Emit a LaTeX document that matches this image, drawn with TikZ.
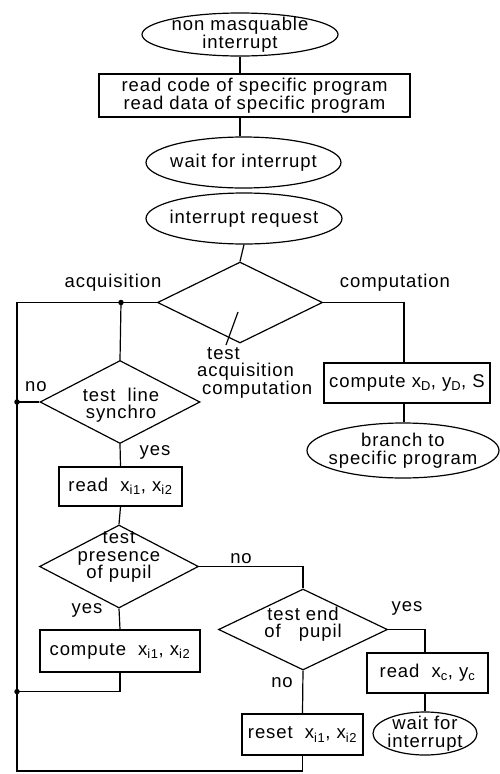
\documentclass[tikz,border=0pt]{standalone}
\usepackage{fontspec}
\setmainfont[LetterSpace=5]{Liberation Sans}
\usetikzlibrary{shapes.geometric}
\begin{document}
\begin{tikzpicture}[x=1pt,y=-1pt,
  every node/.style={font=\fontsize{18.5}{17.5}\selectfont, inner sep=0pt},
  line/.style={line width=1.2pt},
  oval/.style={ellipse, draw, line width=1.2pt},
  box/.style={rectangle, draw, line width=1.2pt, align=center},
  dia/.style={diamond, draw, line width=1.2pt},
  txt/.style={align=center},
  dot/.style={circle, fill, inner sep=0pt, minimum size=5.5pt}]
\useasboundingbox (0,0) rectangle (499,774);
% top chain
\node[oval, minimum width=196, minimum height=43, label={[txt]center:non masquable\\interrupt}] (e1) at (240,34.5) {};
\node[box, minimum width=311, minimum height=43] (b1) at (254.5,95.5) {read code of specific program\\read data of specific program};
\node[oval, minimum width=195, minimum height=51, label={[txt]center:wait for interrupt}] (e2) at (243.5,162.5) {};
\node[oval, minimum width=196, minimum height=51, label={[txt]center:interrupt request}] (e3) at (244,218.5) {};
\node[dia, minimum width=165, minimum height=81] (d1) at (240,302.5) {};
% right branch
\coordinate (cR) at (404,0);
\node[box, minimum width=166, minimum height=40] (b2) at (407,383) {compute x\textsubscript{D}, y\textsubscript{D}, S};
\node[oval, minimum width=192, minimum height=55, label={[txt]center:branch to\\specific program}] (e4) at (403,450.5) {};
% left branch
\coordinate (L1) at (17,302.5);
\coordinate (Lb) at (17,771);
\coordinate (j1) at (121,302.5);
\node[dia, minimum width=160, minimum height=83] (d2) at (120,402) {};
\node[txt] (t2) at (121,405) {test\ \ line\\synchro};
\node[box, minimum width=123, minimum height=39] (b3) at (120.5,486.5) {read\ \ x\textsubscript{i1}, x\textsubscript{i2}};
\node[dia, minimum width=159, minimum height=83] (d3) at (119,566.5) {};
\node[txt] (t3) at (119,557) {test\\presence\\of pupil};
\node[box, minimum width=160, minimum height=42] (b4) at (120,651) {compute\ \ x\textsubscript{i1}, x\textsubscript{i2}};
\node[dia, minimum width=169, minimum height=81] (d4) at (303,629.5) {};
\node[txt] (t4) at (303,624) {test end\\of\ \ \ pupil};
\node[box, minimum width=121, minimum height=40] (b5) at (427.5,673) {read\ \ x\textsubscript{c}, y\textsubscript{c}};
\node[oval, minimum width=104, minimum height=43, label={[txt]center:wait for\\interrupt}] (e5) at (425,733.5) {};
\node[box, minimum width=121, minimum height=41] (b6) at (302.5,734.5) {reset\ \ x\textsubscript{i1}, x\textsubscript{i2}};
% labels
\node (la) at (113,283) {acquisition};
\node (lc) at (395,283) {computation};
\node[align=left, anchor=north west] (ld) at (197,347) {\hspace{10pt}test\\acquisition\\\hspace{5pt}computation};
\coordinate (p1) at (238,312);
\coordinate (p2) at (226,345);
\node (n1) at (36,387) {no};
\node (y1) at (155,452) {yes};
\node (n2) at (241,559) {no};
\node (y2) at (87,610) {yes};
\node (y3) at (407,608) {yes};
\node (n3) at (282,683) {no};
% connectors
\draw[line] (e1.south) -- (e1.south |- b1.north);
\draw[line] (e2.north -| e1.south) -- (e1.south |- b1.south);
\draw[line] (e3.south) -- (d1.north);
\draw[line] (d1.west) -- (L1) -- (Lb) -- (Lb -| b6.south) -- (b6.south);
\draw[line] (d1.east) -| (b2.north -| cR);
\draw[line] (b2.south -| cR) -- (e4.north -| cR);
\draw[line] (j1) -- (d2.north);
\draw[line] (d2.west) -- (d2.west -| L1);
\draw[line] (d2.south) -- (b3.north);
\draw[line] (b3.south) -- (d3.north);
\draw[line] (d3.east) -| (d4.north);
\draw[line] (d3.south) -- (b4.north);
\draw[line] (b4.south) -- ++(0,19) coordinate (j3) -- (j3 -| L1);
\draw[line] (d4.east) -| (b5.north -| e5.north);
\draw[line] (b5.south -| e5.north) -- (e5.north);
\draw[line] (d4.south) -- (b6.north);
\draw[line] (p1) -- (p2);
\node[dot] (o1) at (j1) {};
\node[dot] (o2) at (d2.west -| L1) {};
\node[dot] (o3) at (j3 -| L1) {};
\end{tikzpicture}
\end{document}
